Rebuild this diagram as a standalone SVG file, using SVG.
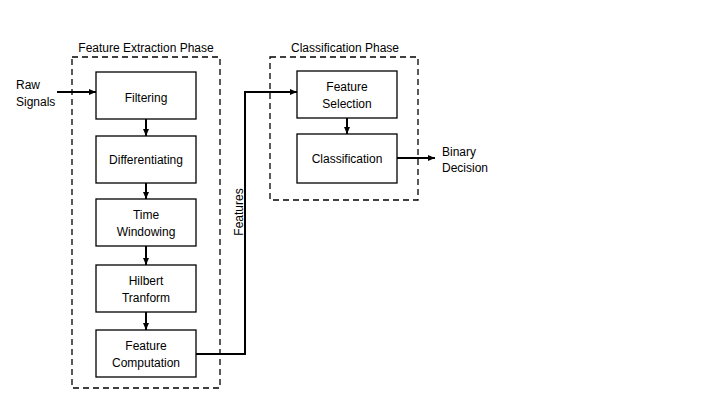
<svg xmlns="http://www.w3.org/2000/svg" width="720" height="405" viewBox="0 0 720 405">
<defs>
<marker id="ah" markerWidth="8" markerHeight="8" refX="7" refY="4" orient="auto" markerUnits="userSpaceOnUse">
<path d="M0,1 L7,4 L0,7 Z" fill="#000"/>
</marker>
<style>
text{font-family:"Liberation Sans",Arial,sans-serif;font-size:12px;fill:#000}
.c{text-anchor:middle}
.box{fill:#fff;stroke:#000;stroke-width:1.3}
.dash{fill:none;stroke:#000;stroke-width:1.3;stroke-dasharray:6,4}
.ln{fill:none;stroke:#000;stroke-width:2;marker-end:url(#ah)}
</style>
</defs>
<rect width="720" height="405" fill="#fff"/>
<g id="phase-extraction">
<rect class="dash" x="72" y="57" width="148" height="331"/>
<text class="c" x="146" y="52">Feature Extraction Phase</text>
</g>
<g id="phase-classification">
<rect class="dash" x="270" y="57" width="148" height="143"/>
<text class="c" x="345" y="52">Classification Phase</text>
</g>
<g id="filtering">
<rect class="box" x="96" y="72" width="100" height="47"/>
<text class="c" x="146" y="102">Filtering</text>
</g>
<g id="differentiating">
<rect class="box" x="96" y="136" width="100" height="47"/>
<text class="c" x="146" y="164">Differentiating</text>
</g>
<g id="time-windowing">
<rect class="box" x="96" y="199" width="100" height="47"/>
<text class="c" x="146" y="219">Time</text>
<text class="c" x="146" y="236">Windowing</text>
</g>
<g id="hilbert">
<rect class="box" x="96" y="265" width="100" height="47"/>
<text class="c" x="146" y="285">Hilbert</text>
<text class="c" x="146" y="302">Tranform</text>
</g>
<g id="feature-computation">
<rect class="box" x="96" y="330" width="100" height="47"/>
<text class="c" x="146" y="350">Feature</text>
<text class="c" x="146" y="367">Computation</text>
</g>
<g id="feature-selection">
<rect class="box" x="297" y="71" width="100" height="47"/>
<text class="c" x="347" y="91">Feature</text>
<text class="c" x="347" y="108">Selection</text>
</g>
<g id="classification">
<rect class="box" x="297" y="134" width="100" height="49"/>
<text class="c" x="347" y="163">Classification</text>
</g>
<g id="raw-signals">
<text x="16" y="89">Raw</text>
<text x="16" y="106">Signals</text>
</g>
<g id="binary-decision">
<text x="442" y="156">Binary</text>
<text x="442" y="172">Decision</text>
</g>
<g id="connectors">
<line class="ln" x1="57" y1="92" x2="96" y2="92"/>
<line class="ln" x1="146" y1="119" x2="146" y2="136"/>
<line class="ln" x1="146" y1="183" x2="146" y2="199"/>
<line class="ln" x1="146" y1="246" x2="146" y2="265"/>
<line class="ln" x1="146" y1="312" x2="146" y2="330"/>
<polyline class="ln" points="196,354 245,354 245,92 297,92"/>
<line class="ln" x1="347" y1="118" x2="347" y2="134"/>
<line class="ln" x1="397" y1="158" x2="435" y2="158"/>
<text class="c" x="0" y="0" transform="translate(243,212) rotate(-90)">Features</text>
</g>
</svg>
